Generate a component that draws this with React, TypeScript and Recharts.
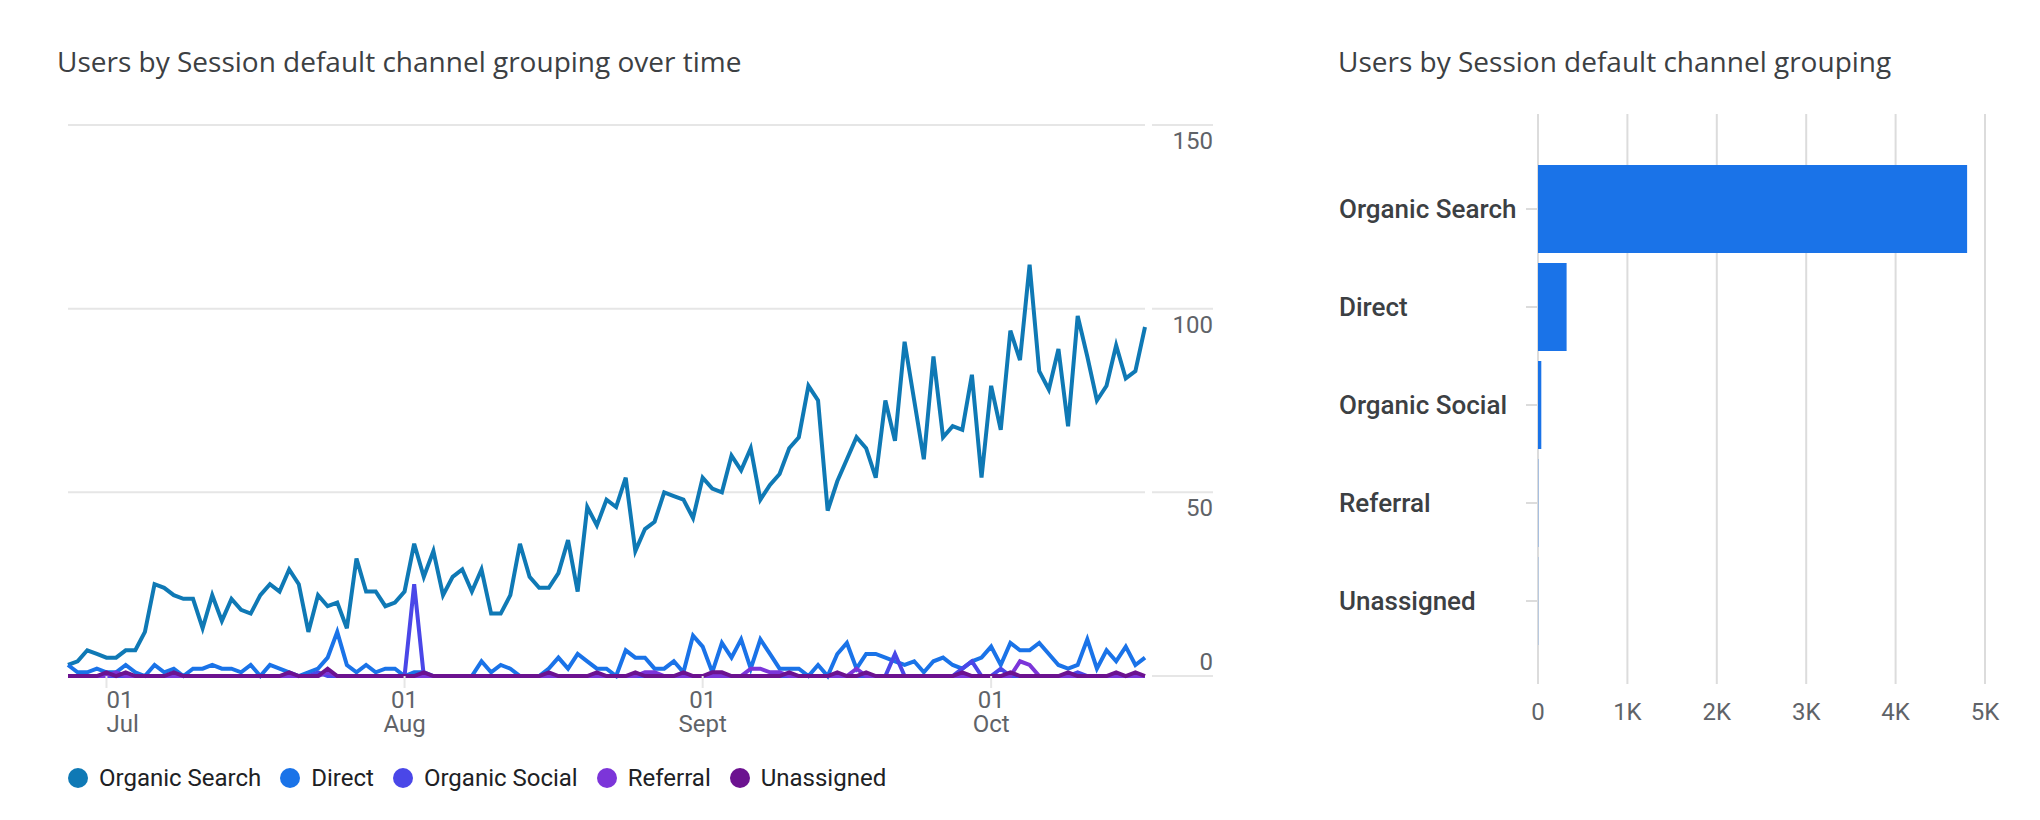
import React from 'react'
import {
  Bar,
  BarChart,
  CartesianGrid,
  Legend,
  Line,
  LineChart,
  XAxis,
  YAxis,
} from 'recharts'

// daily users per channel, 27 Jun – 17 Oct
const organicSearch = [
  3, 4, 7, 6, 5, 5, 7, 7, 12, 25,
  24, 22, 21, 21, 13, 22, 15, 21, 18, 17,
  22, 25, 23, 29, 25, 12, 22, 19, 20, 13,
  32, 23, 23, 19, 20, 23, 36, 27, 34, 22,
  27, 29, 23, 29, 17, 17, 22, 36, 27, 24,
  24, 28, 37, 23, 46, 41, 48, 46, 54, 34,
  40, 42, 50, 49, 48, 43, 54, 51, 50, 60,
  56, 62, 48, 52, 55, 62, 65, 79, 75, 45,
  53, 59, 65, 62, 54, 75, 64, 91, 75, 59,
  87, 65, 68, 67, 82, 54, 79, 67, 94, 86,
  112, 83, 78, 89, 68, 98, 87, 75, 79, 90,
  81, 83, 95,
]
const direct = [
  3, 1, 1, 2, 1, 1, 3, 1, 0, 3,
  1, 2, 0, 2, 2, 3, 2, 2, 1, 3,
  0, 3, 2, 1, 0, 1, 2, 5, 12, 3,
  1, 3, 1, 2, 2, 0, 1, 1, 0, 0,
  0, 0, 0, 4, 1, 3, 2, 0, 0, 0,
  2, 5, 2, 6, 4, 2, 2, 0, 7, 5,
  5, 2, 2, 4, 1, 11, 8, 1, 9, 5,
  10, 2, 10, 6, 2, 2, 2, 0, 3, 0,
  6, 9, 2, 6, 6, 5, 4, 3, 4, 1,
  4, 5, 3, 2, 4, 5, 8, 3, 9, 7,
  7, 9, 6, 3, 2, 3, 10, 2, 7, 4,
  8, 3, 5,
]
const organicSocial = [
  0, 0, 0, 0, 0, 0, 0, 0, 0, 0,
  0, 0, 0, 0, 0, 0, 0, 0, 0, 0,
  0, 0, 0, 0, 0, 0, 1, 0, 0, 0,
  0, 0, 0, 0, 0, 0, 25, 0, 0, 0,
  0, 0, 0, 0, 0, 0, 0, 0, 0, 0,
  0, 0, 0, 0, 0, 0, 0, 0, 0, 0,
  0, 0, 0, 0, 0, 0, 0, 0, 0, 0,
  0, 0, 0, 0, 0, 0, 0, 0, 0, 0,
  0, 0, 0, 0, 0, 0, 6, 0, 0, 0,
  0, 0, 0, 2, 4, 0, 0, 2, 0, 0,
  0, 0, 0, 0, 0, 1, 0, 0, 0, 0,
  0, 0, 0,
]
const referral = [
  0, 0, 0, 0, 0, 1, 0, 0, 0, 0,
  0, 0, 0, 0, 0, 0, 0, 0, 0, 0,
  0, 0, 0, 0, 0, 0, 0, 1, 0, 0,
  0, 0, 0, 0, 0, 0, 0, 0, 0, 0,
  0, 0, 0, 0, 0, 0, 0, 0, 0, 0,
  0, 0, 0, 0, 0, 0, 0, 0, 0, 0,
  1, 1, 0, 0, 0, 0, 0, 0, 0, 0,
  0, 2, 2, 1, 1, 0, 0, 0, 0, 0,
  0, 0, 2, 0, 0, 0, 0, 0, 0, 0,
  0, 0, 0, 0, 0, 0, 0, 0, 0, 4,
  3, 0, 0, 0, 0, 0, 0, 0, 0, 0,
  0, 0, 0,
]
const unassigned = [
  0, 0, 0, 0, 1, 0, 1, 0, 0, 0,
  0, 1, 0, 0, 0, 0, 0, 0, 0, 0,
  0, 0, 0, 1, 0, 0, 0, 2, 0, 0,
  0, 0, 0, 0, 0, 0, 0, 1, 0, 0,
  0, 0, 0, 0, 0, 0, 0, 0, 0, 0,
  1, 0, 0, 0, 0, 1, 0, 0, 0, 1,
  0, 0, 0, 0, 1, 0, 0, 1, 1, 0,
  0, 0, 0, 0, 0, 1, 0, 0, 0, 0,
  1, 0, 0, 1, 0, 0, 0, 0, 0, 0,
  0, 0, 0, 1, 0, 0, 0, 0, 1, 0,
  0, 0, 0, 0, 1, 0, 0, 0, 0, 1,
  0, 1, 0,
]

// month name, first day shown, last day shown
const months: Array<[string, number, number]> = [
  ['Jun', 27, 30],
  ['Jul', 1, 31],
  ['Aug', 1, 31],
  ['Sept', 1, 30],
  ['Oct', 1, 17],
]

const yTicks = [0, 50, 100, 150]

const channels = ['Organic Search', 'Direct', 'Organic Social', 'Referral', 'Unassigned']
const channelUsers = [4800, 320, 37, 3, 2]
const barTicks = [0, 1000, 2000, 3000, 4000, 5000]

const series = [
  { key: 'organicSearch', name: 'Organic Search', color: '#0f79b5', values: organicSearch },
  { key: 'direct', name: 'Direct', color: '#1a73e8', values: direct },
  { key: 'organicSocial', name: 'Organic Social', color: '#4a47e8', values: organicSocial },
  { key: 'referral', name: 'Referral', color: '#7c35d9', values: referral },
  { key: 'unassigned', name: 'Unassigned', color: '#6c1290', values: unassigned },
]

const days: Array<{ month: string; dom: number }> = []
months.forEach(([m, from, to]) => {
  for (let d = from; d <= to; d++) days.push({ month: m, dom: d })
})

const lineData = days.map((day, i) => {
  const row: Record<string, number> = { day: i }
  series.forEach((s) => (row[s.key] = s.values[i]))
  return row
})
const monthStarts = days.map((d, i) => (d.dom === 1 ? i : -1)).filter((i) => i >= 0)

const barData = channels.map((channel, i) => ({ channel, users: channelUsers[i] }))

const FONT = 'Roboto, "Noto Sans", sans-serif'
const TITLE_FONT = '"Open Sans", Roboto, sans-serif'
const AXIS_TEXT = '#5f6368'
const LINE_GRID = '#e6e6e6'
const BAR_GRID = '#dcdcdc'

const LineYTick = ({ y, payload }: any) => (
  <g>
    <line x1={1152} x2={1213} y1={y} y2={y} stroke={LINE_GRID} strokeWidth={2} />
    <text
      x={1213}
      y={y + (payload.value === 0 ? -14 : 16)}
      textAnchor="end"
      dominantBaseline="central"
      fill={AXIS_TEXT}
      fontSize={24}
      fontFamily={FONT}
    >
      {payload.value}
    </text>
  </g>
)

const LineXTick = ({ x, payload, index }: any) => {
  const d = days[payload.value]
  const anchor = index === 0 ? 'start' : 'middle'
  return (
    <g fill={AXIS_TEXT} fontSize={24} fontFamily={FONT}>
      <text x={x} y={700} textAnchor={anchor} dominantBaseline="central">
        {String(d.dom).padStart(2, '0')}
      </text>
      <text x={x} y={724} textAnchor={anchor} dominantBaseline="central">
        {d.month}
      </text>
    </g>
  )
}

const renderLegend = () => (
  <div
    style={{
      height: 84,
      display: 'flex',
      alignItems: 'center',
      fontFamily: FONT,
      fontSize: 24,
      color: '#202124',
    }}
  >
    {series.map((s) => (
      <div key={s.key} style={{ display: 'flex', alignItems: 'center', marginRight: 19 }}>
        <span
          style={{
            width: 20,
            height: 20,
            borderRadius: '50%',
            background: s.color,
            marginRight: 11,
            display: 'inline-block',
          }}
        />
        <span>{s.name}</span>
      </div>
    ))}
  </div>
)

const BarYTick = ({ y, payload }: any) => (
  <text
    x={39}
    y={y}
    dominantBaseline="central"
    fill="#3c4043"
    fontSize={26}
    fontWeight={500}
    fontFamily={FONT}
  >
    {payload.value}
  </text>
)

const BarXTick = ({ x, payload }: any) => (
  <text
    x={x}
    y={712}
    textAnchor="middle"
    dominantBaseline="central"
    fill={AXIS_TEXT}
    fontSize={24}
    fontFamily={FONT}
  >
    {payload.value === 0 ? '0' : `${payload.value / 1000}K`}
  </text>
)

const titleStyle: React.CSSProperties = {
  position: 'absolute',
  top: 45,
  fontFamily: TITLE_FONT,
  fontSize: 28,
  lineHeight: '32px',
  color: '#3c4043',
  whiteSpace: 'nowrap',
}

export default function App() {
  return (
    <div
      style={{
        position: 'absolute',
        left: 0,
        top: 0,
        width: 2040,
        height: 820,
        background: '#fff',
        overflow: 'hidden',
      }}
    >
      <div style={{ ...titleStyle, left: 57 }}>Users by Session default channel grouping over time</div>
      <div style={{ ...titleStyle, left: 1338 }}>Users by Session default channel grouping</div>

      <div style={{ position: 'absolute', left: 0, top: 0 }}>
        <LineChart
          width={1240}
          height={820}
          data={lineData}
          margin={{ top: 125, right: 0, bottom: 0, left: 68 }}
        >
          <CartesianGrid vertical={false} stroke={LINE_GRID} strokeWidth={2} />
          <XAxis
            dataKey="day"
            type="number"
            domain={[0, days.length - 1]}
            ticks={monthStarts}
            interval={0}
            height={60}
            axisLine={false}
            tickLine={{ stroke: LINE_GRID, strokeWidth: 2 }}
            tickSize={12}
            tick={<LineXTick />}
          />
          <YAxis
            orientation="right"
            domain={[0, 150]}
            ticks={yTicks}
            width={95}
            axisLine={false}
            tickLine={false}
            tick={<LineYTick />}
          />
          <Legend verticalAlign="bottom" align="left" content={renderLegend} />
          {series.map((s) => (
            <Line
              key={s.key}
              type="linear"
              dataKey={s.key}
              name={s.name}
              stroke={s.color}
              strokeWidth={4}
              dot={false}
              isAnimationActive={false}
            />
          ))}
        </LineChart>
      </div>

      <div style={{ position: 'absolute', left: 1300, top: 0 }}>
        <BarChart
          layout="vertical"
          width={740}
          height={820}
          data={barData}
          margin={{ top: 114, right: 55, bottom: 0, left: 38 }}
        >
          <CartesianGrid horizontal={false} stroke={BAR_GRID} strokeWidth={2} />
          <XAxis
            type="number"
            domain={[0, 5000]}
            ticks={barTicks}
            interval={0}
            height={136}
            axisLine={false}
            tickLine={false}
            tick={<BarXTick />}
          />
          <YAxis
            type="category"
            dataKey="channel"
            width={200}
            padding={{ top: 46, bottom: 34 }}
            axisLine={false}
            tickLine={{ stroke: BAR_GRID, strokeWidth: 2 }}
            tickSize={12}
            tick={<BarYTick />}
          />
          <Bar dataKey="users" fill="#1a73e8" barSize={88} isAnimationActive={false} />
        </BarChart>
      </div>
    </div>
  )
}
